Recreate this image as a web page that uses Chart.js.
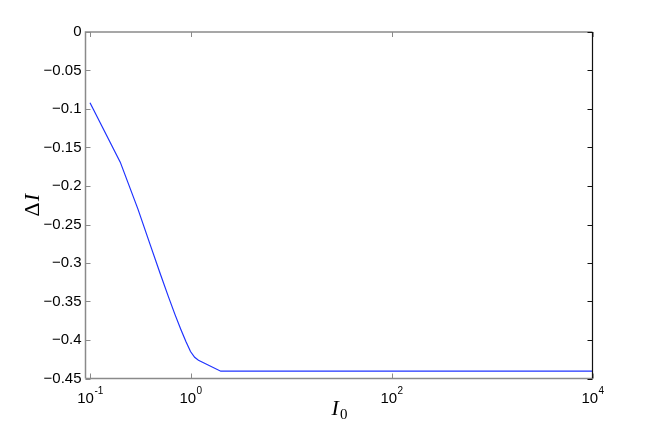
<!DOCTYPE html>
<html>
<head>
<meta charset="utf-8">
<script src="https://cdn.jsdelivr.net/npm/chart.js@4/dist/chart.umd.min.js"></script>
<style>
html,body{margin:0;padding:0;background:#fff;}
#wrap{width:654px;height:426px;position:relative;}
</style>
</head>
<body>
<div id="wrap"><canvas id="c" width="654" height="426"></canvas></div>
<script>
// Data
const xValues = [0.1, 0.2, 0.3, 0.4, 0.5, 0.6, 0.7, 0.8, 0.9, 1.0, 1.1, 1.2, 2, 10, 100, 1000, 10000];
const yValues = [-0.092, -0.169, -0.230, -0.2775, -0.314, -0.343, -0.3667, -0.386, -0.402, -0.415, -0.4225, -0.4262, -0.4405, -0.4405, -0.4405, -0.4405, -0.4405];
const xTickValues = [0.1, 1, 100, 10000];
const xTickExponents = ['-1', '0', '2', '4'];
const yTickValues = [0, -0.05, -0.1, -0.15, -0.2, -0.25, -0.3, -0.35, -0.4, -0.45];
const xTitle = 'I';
const xTitleSub = '0';
const yTitlePrefix = 'Δ';
const yTitle = 'I';

const GRAY = '#8a8a8a';
const TICKFONT = '15px "Liberation Sans", Arial, sans-serif';

const framePlugin = {
  id: 'frame',
  afterDraw(chart) {
    const ctx = chart.ctx;
    const a = chart.chartArea;
    const xs = chart.scales.x, ys = chart.scales.y;
    ctx.save();
    // frame
    ctx.lineWidth = 1.5;
    ctx.strokeStyle = GRAY;
    ctx.beginPath();
    ctx.moveTo(a.left, a.bottom); ctx.lineTo(a.left, a.top); ctx.lineTo(a.right, a.top);
    ctx.moveTo(a.left, a.bottom); ctx.lineTo(a.right, a.bottom);
    ctx.stroke();
    ctx.strokeStyle = '#111';
    ctx.lineWidth = 1.2;
    ctx.beginPath();
    ctx.moveTo(a.right, a.top); ctx.lineTo(a.right, a.bottom);
    ctx.stroke();
    // inward ticks
    const tl = 5;
    ctx.lineWidth = 1;
    xTickValues.forEach(v => {
      const px = Math.round(xs.getPixelForValue(v)) + 0.5;
      ctx.strokeStyle = GRAY;
      ctx.beginPath();
      ctx.moveTo(px, a.bottom); ctx.lineTo(px, a.bottom - tl);
      ctx.moveTo(px, a.top); ctx.lineTo(px, a.top + tl);
      ctx.stroke();
    });
    yTickValues.forEach(v => {
      const py = Math.round(ys.getPixelForValue(v)) + 0.5;
      ctx.strokeStyle = GRAY;
      ctx.beginPath();
      ctx.moveTo(a.left, py); ctx.lineTo(a.left + tl, py);
      ctx.stroke();
      ctx.strokeStyle = '#111';
      ctx.beginPath();
      ctx.moveTo(a.right, py); ctx.lineTo(a.right - tl, py);
      ctx.stroke();
    });
    // x tick labels 10^n
    ctx.fillStyle = '#000';
    ctx.textBaseline = 'alphabetic';
    xTickValues.forEach((v, i) => {
      const px = xs.getPixelForValue(v);
      ctx.font = TICKFONT;
      const w1 = ctx.measureText('10').width;
      ctx.font = '10px "Liberation Sans", Arial, sans-serif';
      const w2 = ctx.measureText(xTickExponents[i]).width;
      const x0 = px - (w1 + w2) / 2;
      ctx.font = TICKFONT;
      ctx.textAlign = 'left';
      ctx.fillText('10', x0, a.bottom + 24);
      ctx.font = '10px "Liberation Sans", Arial, sans-serif';
      ctx.fillText(xTickExponents[i], x0 + w1 + 0.5, a.bottom + 15);
    });
    // x title
    const cx = (a.left + a.right) / 2;
    ctx.font = 'italic 22px "Liberation Serif", "DejaVu Serif", serif';
    const wI = ctx.measureText(xTitle).width;
    ctx.font = '15px "Liberation Serif", "DejaVu Serif", serif';
    const w0 = ctx.measureText(xTitleSub).width;
    const sx = cx - (wI + w0) / 2;
    ctx.font = 'italic 22px "Liberation Serif", "DejaVu Serif", serif';
    ctx.fillText(xTitle, sx, 415);
    ctx.font = '15px "Liberation Serif", "DejaVu Serif", serif';
    ctx.fillText(xTitleSub, sx + wI + 1, 419);
    // y title rotated
    const cy = (a.top + a.bottom) / 2;
    ctx.save();
    ctx.translate(39, cy);
    ctx.rotate(-Math.PI / 2);
    ctx.font = '22px "Liberation Serif", "DejaVu Serif", serif';
    const wD = ctx.measureText(yTitlePrefix).width;
    ctx.font = 'italic 22px "Liberation Serif", "DejaVu Serif", serif';
    const wY = ctx.measureText(yTitle).width;
    const tx = -(wD + wY + 1) / 2;
    ctx.font = '22px "Liberation Serif", "DejaVu Serif", serif';
    ctx.fillText(yTitlePrefix, tx, 0);
    ctx.font = 'italic 22px "Liberation Serif", "DejaVu Serif", serif';
    ctx.fillText(yTitle, tx + wD + 1, 0);
    ctx.restore();
    ctx.restore();
  }
};

new Chart(document.getElementById('c'), {
  type: 'line',
  data: {
    datasets: [{
      data: xValues.map((x, i) => ({x: x, y: yValues[i]})),
      borderColor: '#1f33ff',
      borderWidth: 1.2,
      pointRadius: 0,
      fill: false,
      tension: 0
    }]
  },
  options: {
    responsive: false,
    animation: false,
    devicePixelRatio: 1,
    layout: {padding: {top: 32, right: 61.5, left: 0, bottom: 0}},
    plugins: {legend: {display: false}, tooltip: {enabled: false}},
    scales: {
      x: {
        type: 'logarithmic',
        min: 0.0902,
        max: 10000,
        grid: {display: false, drawTicks: false},
        border: {display: false},
        ticks: {display: false},
        afterBuildTicks: s => { s.ticks = xTickValues.map(v => ({value: v})); },
        afterFit: s => { s.height = 47.5; }
      },
      y: {
        type: 'linear',
        min: -0.45,
        max: 0,
        grid: {display: false, drawTicks: false},
        border: {display: false},
        afterBuildTicks: s => { s.ticks = yTickValues.map(v => ({value: v})); },
        ticks: {
          color: '#000',
          padding: 4,
          font: {family: '"Liberation Sans", Arial, sans-serif', size: 15},
          callback: v => {
            const r = Math.round(Math.abs(v) * 100) / 100;
            return r === 0 ? '0' : '\u2212' + r.toString();
          }
        },
        afterFit: s => { s.width = 85.5; }
      }
    }
  },
  plugins: [framePlugin]
});
</script>
</body>
</html>
